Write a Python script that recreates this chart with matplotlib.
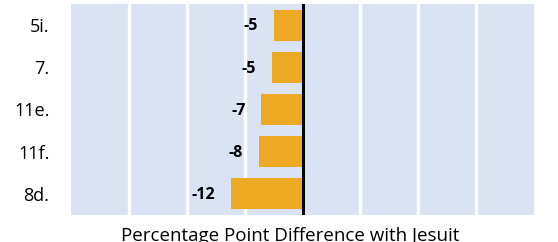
import matplotlib.pyplot as plt

items = ['5i.', '7.', '11e.', '11f.', '8d.']
diffs = [-4.9, -5.3, -7.1, -7.5, -12.4]
labels = ['-5', '-5', '-7', '-8', '-12']

plt.rcParams['font.family'] = ['Open Sans', 'DejaVu Sans']

fig = plt.figure(figsize=(5.58, 2.42), dpi=100)
ax = fig.add_axes([71 / 558, 27 / 242, 463 / 558, 211 / 242])
ax.set_facecolor('#DAE3F3')

ypos = range(len(items))
ax.barh(ypos, diffs, height=0.73, color='#EEA924', zorder=3)
for y, v, t in zip(ypos, diffs, labels):
    ax.annotate(t, (v, y), xytext=(-11.5, -1), textcoords='offset points',
                ha='right', va='center', fontsize=11.5, fontweight='bold')

ax.axvline(0, color='black', lw=2.2, zorder=4)
ax.set_xlim(-40, 40)
ax.set_ylim(4.5, -0.5)
ax.set_xticks(range(-30, 40, 10))
ax.set_xticklabels([])
ax.grid(axis='x', color='white', lw=2.4, zorder=2)
ax.set_axisbelow(True)
ax.set_yticks(list(ypos))
ax.set_yticklabels(items, fontsize=13)
ax.tick_params(length=0)
ax.tick_params(axis='y', pad=15.5)
for s in ax.spines.values():
    s.set_visible(False)

fig.text(290 / 558, 1 - 227 / 242, 'Percentage Point Difference with Jesuit',
         ha='center', va='top', fontsize=13.5)

fig.savefig('out.png', dpi=100)
